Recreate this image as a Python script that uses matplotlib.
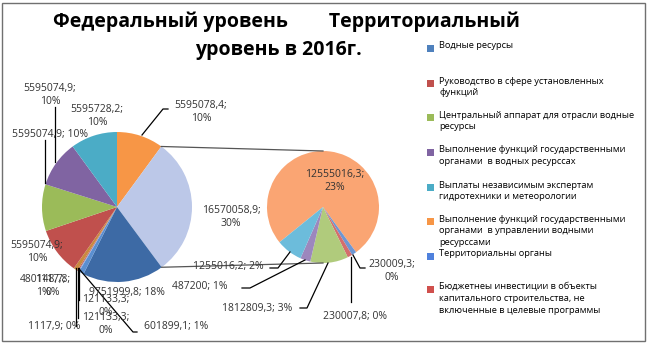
import matplotlib
matplotlib.use("Agg")
import matplotlib.pyplot as plt
from matplotlib.patches import Rectangle
import numpy as np

plt.rcParams['font.family'] = ['Open Sans', 'DejaVu Sans']

H = 344  # высота картинки в пикселях, y считаем сверху вниз

# основной круг, по часовой стрелке от 12 часов
main_values = [5595078.4, 16570058.9, 9751999.8, 601899.1, 121133.3, 121133.3,
               1117.9, 1117.8, 480148.7, 5595074.9, 5595074.9, 5595074.9, 5595728.2]
main_colors = ['#F79646', '#BCC8E8', '#3D6AA5', '#5B8FD0', '#8FA8D8', '#C0504D',
               '#9BBB59', '#8064A2', '#C98A3E', '#C0504D', '#9BBB59', '#8064A2', '#4BACC6']

# вторичный круг (разбивка сектора 16570058,9)
sub_values = [12555016.3, 230009.3, 230007.8, 1812809.3, 487200.0, 1255016.2]
sub_colors = ['#FAA573', '#6E96D2', '#D46E6C', '#B0CB7C', '#9C87BD', '#6CBCDB']

legend_labels = [
    "Водные ресурсы",
    "Руководство в сфере установленных\nфункций",
    "Центральный аппарат для отрасли водные\nресурсы",
    "Выполнение функций государственными\nорганами  в водных ресурссах",
    "Выплаты независимым экспертам\nгидротехники и метеорологии",
    "Выполнение функций государственными\nорганами  в управлении водными\nресурссами",
    "Территориальны органы",
    "Бюджетнеы инвестиции в объекты\nкапитального строительства, не\nвключенные в целевые программы",
]
legend_colors = ['#4F81BD', '#C0504D', '#9BBB59', '#8064A2', '#4BACC6', '#F79646', '#4F81DD', '#D0504D']

total = sum(main_values)


def fmt(v):
    s = f"{int(v)}" if v == int(v) else f"{v:.1f}"
    return s.replace('.', ',')


def lab(v, sep):
    return f"{fmt(v)};{sep}{round(100 * v / total)}%"


fig = plt.figure(figsize=(6.48, 3.44), dpi=100)
ax = fig.add_axes([0, 0, 1, 1])

main_c = (117, H - 207)
main_r = 75
sub_c = (323, H - 207)
sub_r = 56

ax.pie(main_values, colors=main_colors, startangle=90, counterclock=False,
       radius=main_r, center=main_c, wedgeprops=dict(linewidth=0))
ax.pie(sub_values, colors=sub_colors, startangle=219, counterclock=False,
       radius=sub_r, center=sub_c, wedgeprops=dict(linewidth=0))

# линии, связывающие сектор "прочее" со вторым кругом
f0 = main_values[0] / total
f1 = (main_values[0] + main_values[1]) / total
for f, yt in [(f0, sub_c[1] + sub_r), (f1, sub_c[1] - sub_r)]:
    a = np.deg2rad(90 - 360 * f)
    x0 = main_c[0] + main_r * np.cos(a)
    y0 = main_c[1] + main_r * np.sin(a)
    ax.plot([x0, sub_c[0]], [y0, yt], color='#555555', lw=0.9)

# подписи: (x, y центра, разделитель, выноска)
main_lay = {
    0: (201, 112, "\n", [(142, 135), (163, 109), (168, 109)]),
    1: (231, 217, "\n", None),
    2: (127, 292, " ", None),
    3: (176, 327, " ", [(80, 270), (133, 332), (137, 332)]),
    4: (106, 306, "\n", [(79, 268), (79, 300)]),
    5: (106, 324, "\n", [(78, 268), (78, 318)]),
    6: (54, 327, " ", [(76, 268), (76, 326)]),
    7: (53, 286, "\n", None),
    8: (43, 286, "\n", None),
    9: (37, 252, "\n", None),
    10: (50, 135, " ", [(45, 140), (45, 183)]),
    11: (50, 95, "\n", [(55, 107), (55, 162)]),
    12: (97, 116, "\n", None),
}
sub_lay = {
    0: (335, 181, "\n", None),
    1: (392, 271, "\n", [(353, 255), (360, 268), (365, 268)]),
    2: (355, 317, " ", [(351, 257), (351, 302)]),
    3: (257, 308, " ", [(328, 263), (307, 308), (300, 308)]),
    4: (200, 287, " ", [(305, 260), (250, 288), (242, 288)]),
    5: (228, 266, " ", [(290, 252), (278, 268), (270, 268)]),
}

for vals, lay in [(main_values, main_lay), (sub_values, sub_lay)]:
    for i, (x, y, sep, lead) in lay.items():
        if lead:
            ax.plot([p[0] for p in lead], [H - p[1] for p in lead], color='black', lw=0.9)
        ax.text(x, H - y, lab(vals[i], sep), ha='center', va='center',
                fontsize=7.5, color='#333333', linespacing=1.3)

# заголовок
ax.text(286, H - 22, "Федеральный уровень        Территориальный", ha='center', va='center',
        fontsize=14, fontweight='bold', color='black')
ax.text(278, H - 50, "уровень в 2016г.", ha='center', va='center',
        fontsize=14, fontweight='bold', color='black')

# легенда
leg_y = [48, 83, 117, 152, 187, 221, 256, 289]
for yy, txt, col in zip(leg_y, legend_labels, legend_colors):
    ax.add_patch(Rectangle((427, H - yy - 3.5), 7, 7, facecolor=col, edgecolor='none'))
    ax.text(439, H - yy + 6.5, txt, ha='left', va='top', fontsize=6.7,
            color='black', linespacing=1.42)

# рамка
ax.add_patch(Rectangle((2, 3), 643, 338, facecolor='none', edgecolor='#707070', lw=1))

ax.set_xlim(0, 648)
ax.set_ylim(0, H)
ax.set_aspect('equal')
ax.axis('off')

fig.savefig("out.png", dpi=100)
